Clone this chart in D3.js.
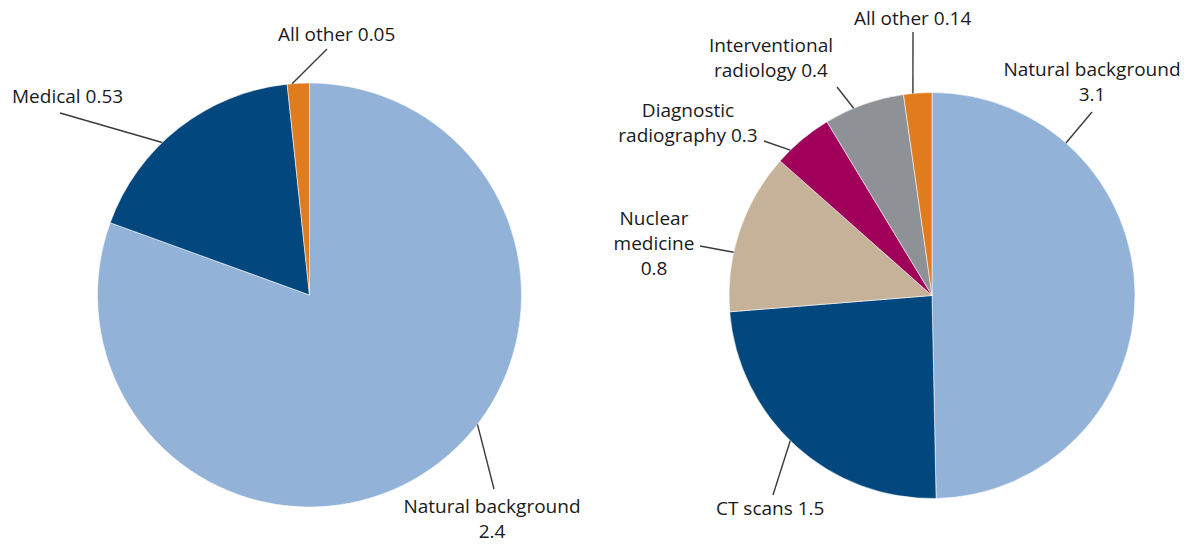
<!DOCTYPE html>
<html>
<head>
<meta charset="utf-8">
<script src="https://cdn.jsdelivr.net/npm/d3@7"></script>
<style>
  html, body { margin: 0; padding: 0; background: #fff; }
  svg { display: block; }
  text { font-family: "Open Sans", "Noto Sans", sans-serif; font-size: 19px; font-weight: 500; fill: #1a1a1a; }
</style>
</head>
<body>
<svg id="chart" width="1189" height="544"></svg>
<script>
// ---- data ----
const leftCategories = ["Natural background", "Medical", "All other"];
const leftValues = [2.4, 0.53, 0.05];
const leftLabels = [["Natural background", "2.4"], ["Medical 0.53"], ["All other 0.05"]];

const rightCategories = ["Natural background", "CT scans", "Nuclear medicine", "Diagnostic radiography", "Interventional radiology", "All other"];
const rightValues = [3.1, 1.5, 0.8, 0.3, 0.4, 0.14];
const rightLabels = [["Natural background", "3.1"], ["CT scans 1.5"], ["Nuclear", "medicine", "0.8"], ["Diagnostic", "radiography 0.3"], ["Interventional", "radiology 0.4"], ["All other 0.14"]];

// ---- colours ----
const colorMap = {
  "Natural background": "#92b2d8",
  "Medical": "#02487f",
  "CT scans": "#02487f",
  "Nuclear medicine": "#c6b299",
  "Diagnostic radiography": "#a0005a",
  "Interventional radiology": "#8e9297",
  "All other": "#e07b1e"
};

// ---- layout ----
const pies = [
  { cx: 309.5, cy: 295, r: 212, cats: leftCategories, vals: leftValues, labels: leftLabels,
    leaderAngle: [127.6, 316, 355.3],
    leaderEnd: [[494, 489], [60, 113], [327, 49]],
    labelPos: [[492, 513, "middle"], [12, 103, "start"], [278, 41, "start"]] },
  { cx: 932, cy: 295.5, r: 203, cats: rightCategories, vals: rightValues, labels: rightLabels,
    leaderAngle: [41.3, 224.3, 282.3, 315.7, 337.3, 354.6],
    leaderEnd: [[1092, 112], [773, 495], [700, 246], [764, 141], [837, 87], [913, 32]],
    labelPos: [[1092, 76, "middle"], [716, 515, "start"], [654, 225, "middle"], [688, 117, "middle"], [771, 52, "middle"], [854, 25, "start"]] }
];
const lineH = 25;

const svg = d3.select("#chart");

pies.forEach(p => {
  const g = svg.append("g").attr("transform", `translate(${p.cx},${p.cy})`);
  const pie = d3.pie().sort(null).value(d => d.v);
  const data = pie(p.cats.map((c, i) => ({ c, v: p.vals[i] })));
  const arc = d3.arc().innerRadius(0).outerRadius(p.r);
  g.selectAll("path.slice").data(data).join("path")
    .attr("class", "slice")
    .attr("d", arc)
    .attr("fill", d => colorMap[d.data.c])
    .attr("stroke", "rgba(255,255,255,0.55)")
    .attr("stroke-width", 1);

  // leader lines and labels
  data.forEach((d, i) => {
    const a = p.leaderAngle[i] * Math.PI / 180;
    const x1 = p.cx + p.r * Math.sin(a);
    const y1 = p.cy - p.r * Math.cos(a);
    const [x2, y2] = p.leaderEnd[i];
    svg.append("line")
      .attr("x1", x1).attr("y1", y1).attr("x2", x2).attr("y2", y2)
      .attr("stroke", "#3a3a3a").attr("stroke-width", 1.4);
    const [lx, ly, anchor] = p.labelPos[i];
    const t = svg.append("text").attr("x", lx).attr("y", ly).attr("text-anchor", anchor);
    p.labels[i].forEach((s, k) => {
      t.append("tspan").attr("x", lx).attr("y", ly + k * lineH).text(s);
    });
  });
});
</script>
</body>
</html>
